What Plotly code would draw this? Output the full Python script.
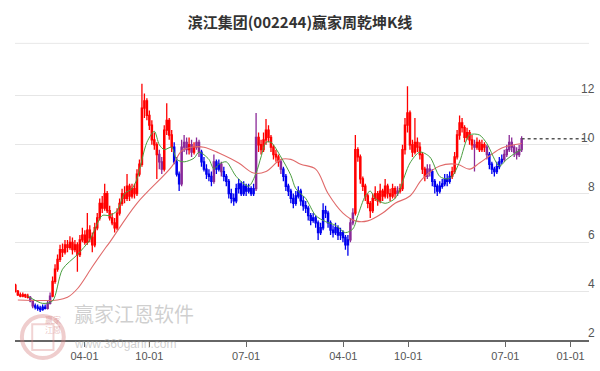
import pandas as pd
import plotly.graph_objects as go

TITLE = "滨江集团(002244)赢家周乾坤K线"

# weekly candles (week ending Fridays)
start_week = "2020-09-18"

opens = [
 4.25,4.00,3.85,3.80,3.85,3.80,3.75,3.60,3.40,3.35,
 3.30,3.25,3.35,3.30,3.50,3.80,4.40,4.90,5.30,5.70,
 5.60,5.90,5.80,6.00,5.70,5.90,5.50,6.10,6.30,6.00,
 6.50,6.20,5.90,6.60,7.00,7.60,7.40,8.00,7.30,7.00,
 6.80,6.60,7.20,7.60,8.00,7.80,8.30,7.90,8.20,8.00,
 8.80,9.20,11.50,11.80,11.20,10.80,10.20,10.00,9.60,9.30,
 9.00,10.60,11.00,10.40,9.90,9.30,8.80,8.40,9.90,10.10,
 9.80,10.00,9.70,9.90,10.10,9.70,9.30,9.00,8.80,8.70,
 8.50,9.30,9.00,9.20,8.90,8.70,8.50,8.00,7.80,7.70,
 8.20,8.40,8.00,8.30,8.10,8.20,8.00,8.20,10.30,10.00,
 9.80,10.20,10.60,10.30,9.90,9.60,9.50,9.30,9.00,8.70,
 8.30,8.10,7.80,7.60,7.90,8.10,7.70,7.50,7.40,7.10,
 6.90,7.00,6.80,6.40,6.60,7.30,7.20,6.80,6.50,6.40,
 6.60,6.30,6.40,6.20,5.90,6.10,6.80,7.20,9.80,9.50,
 8.60,8.30,7.90,7.60,7.30,7.80,8.00,7.70,8.10,7.90,
 8.30,8.00,7.90,8.20,8.00,8.10,8.20,9.80,10.80,11.30,
 10.00,9.70,10.10,9.90,9.60,9.00,8.70,9.00,8.90,8.50,
 8.30,8.10,8.30,8.40,8.60,8.50,8.70,8.90,9.50,10.40,
 10.90,10.70,10.30,10.50,10.20,10.00,9.90,10.10,9.80,10.00,
 9.90,9.60,9.20,9.00,8.90,9.10,9.30,9.40,9.60,9.80,
 10.10,9.90,9.70,9.60,9.80]

highs = [
 4.30,4.05,3.95,3.95,3.90,3.90,3.80,3.65,3.50,3.45,
 3.40,3.45,3.45,3.60,3.95,4.60,5.10,5.50,5.90,5.95,
 6.10,6.10,6.25,6.20,6.10,6.00,6.30,6.60,6.50,7.20,
 6.70,6.40,6.80,7.20,7.80,7.90,8.40,8.10,7.50,7.20,
 7.00,7.40,7.80,8.20,8.30,8.80,8.40,8.40,8.40,9.00,
 9.40,12.50,12.10,11.90,11.40,11.00,10.50,10.10,9.80,9.50,
 10.80,11.70,11.10,10.60,10.10,9.50,8.90,10.20,10.40,10.30,
 10.30,10.20,10.10,10.30,10.20,9.80,9.50,9.20,9.00,8.90,
 9.60,9.40,9.40,9.30,9.10,8.80,8.60,8.20,8.00,8.40,
 8.60,8.50,8.50,8.40,8.40,8.30,8.40,11.30,10.50,10.20,
 10.50,11.05,10.80,10.40,10.00,9.80,9.60,9.40,9.10,8.80,
 8.40,8.20,8.00,8.10,8.30,8.20,7.90,7.70,7.50,7.20,
 7.20,7.10,6.90,6.80,7.60,7.50,7.30,6.90,6.70,6.80,
 6.70,6.60,6.50,6.30,6.30,7.00,7.40,10.40,9.90,9.60,
 8.70,8.40,8.00,7.70,8.00,8.30,8.10,8.40,8.20,8.60,
 8.40,8.20,8.40,8.30,8.30,8.40,10.00,11.10,12.40,11.40,
 10.20,11.10,10.30,10.10,9.70,9.10,9.20,9.20,9.00,8.60,
 8.40,8.50,8.60,8.80,8.80,8.90,9.10,9.70,10.60,11.20,
 11.10,10.80,10.70,10.60,10.40,10.20,10.30,10.20,10.20,10.10,
 10.00,9.70,9.30,9.10,9.30,9.50,9.60,9.80,10.00,10.40,
 10.30,10.00,9.90,10.00,10.35]

lows = [
 3.95,3.80,3.75,3.75,3.72,3.70,3.55,3.30,3.25,3.20,
 3.15,3.20,3.25,3.25,3.45,3.75,4.30,4.80,5.20,5.40,
 5.50,5.60,5.70,5.50,5.60,4.80,5.40,6.00,5.90,5.90,
 6.00,5.60,5.80,6.50,6.90,7.20,7.30,7.20,6.90,6.70,
 6.40,6.50,7.10,7.50,7.60,7.70,7.70,7.80,7.80,7.90,
 8.70,9.10,11.10,11.00,10.60,10.00,9.80,8.60,9.00,8.80,
 8.90,10.40,10.20,9.70,9.20,8.70,8.10,8.30,9.70,9.60,
 9.60,9.50,9.60,9.80,9.50,9.10,8.90,8.60,8.50,8.30,
 8.40,8.80,8.90,8.70,8.50,8.30,7.80,7.60,7.50,7.60,
 8.00,7.90,7.90,7.90,8.00,7.90,7.90,8.10,9.70,9.60,
 9.70,10.00,10.10,9.70,9.40,9.30,9.10,8.80,8.50,8.10,
 7.90,7.60,7.40,7.50,7.80,7.50,7.30,7.20,6.90,6.70,
 6.80,6.60,6.10,6.30,6.50,7.00,6.60,6.30,6.20,6.30,
 6.10,6.10,6.00,5.70,5.45,6.00,6.70,7.10,9.30,8.40,
 8.10,7.70,7.40,7.00,7.20,7.70,7.50,7.60,7.70,7.80,
 7.80,7.70,7.80,7.80,7.90,8.00,8.10,9.60,10.50,9.80,
 9.50,9.60,9.70,9.40,8.80,8.50,8.60,8.70,8.30,8.00,
 7.90,8.00,8.20,8.30,8.30,8.40,8.60,8.80,9.40,10.20,
 10.50,10.10,10.20,10.00,9.80,8.90,9.80,9.70,9.70,9.70,
 9.40,9.00,8.80,8.70,8.80,9.00,9.20,9.30,9.50,9.70,
 9.70,9.50,9.40,9.50,9.70]

closes = [
 4.00,3.85,3.80,3.85,3.80,3.75,3.60,3.40,3.35,3.30,
 3.25,3.35,3.30,3.50,3.80,4.40,4.90,5.30,5.70,5.60,
 5.90,5.80,6.00,5.70,5.90,5.50,6.10,6.30,6.00,6.50,
 6.20,5.90,6.60,7.00,7.60,7.40,8.00,7.30,7.00,6.80,
 6.60,7.20,7.60,8.00,7.80,8.30,7.90,8.20,8.00,8.80,
 9.20,11.50,11.80,11.20,10.80,10.20,10.00,9.60,9.30,9.00,
 10.60,11.00,10.40,9.90,9.30,8.80,8.40,9.90,10.10,9.80,
 10.00,9.70,9.90,10.10,9.70,9.30,9.00,8.80,8.70,8.50,
 9.30,9.00,9.20,8.90,8.70,8.50,8.00,7.80,7.70,8.20,
 8.40,8.00,8.30,8.10,8.20,8.00,8.20,10.30,10.00,9.80,
 10.20,10.60,10.30,9.90,9.60,9.50,9.30,9.00,8.70,8.30,
 8.10,7.80,7.60,7.90,8.10,7.70,7.50,7.40,7.10,6.90,
 7.00,6.80,6.40,6.60,7.30,7.20,6.80,6.50,6.40,6.60,
 6.30,6.40,6.20,5.90,6.10,6.80,7.20,9.80,9.50,8.60,
 8.30,7.90,7.60,7.30,7.80,8.00,7.70,8.10,7.90,8.30,
 8.00,7.90,8.20,8.00,8.10,8.20,9.80,10.80,11.30,10.00,
 9.70,10.10,9.90,9.60,9.00,8.70,9.00,8.90,8.50,8.30,
 8.10,8.30,8.40,8.60,8.50,8.70,8.90,9.50,10.40,10.90,
 10.70,10.30,10.50,10.20,10.00,9.90,10.10,9.80,10.00,9.90,
 9.60,9.20,9.00,8.90,9.10,9.30,9.40,9.60,9.80,10.10,
 9.90,9.70,9.60,9.80,10.25]

# indicator state of each candle: r = 多 (red), b = 空 (blue), p = 转换 (purple)
states = list(
 "rrrrrrppbb" "bbbpprrrrr" "rrrrrrrrrr" "rrrrrrrrrr" "rrrrrrrrrr"
 "rrrrrrrrpp" "rrrrbbbppp" "rprppbbbbb" "pbbpbbbbbb" "bbbbbbbprr"
 "rrrrrrrpbb" "bbbbbbbbbb" "bbbbbbbbbb" "bbbbbpprrr" "rrrrrrrrrr"
 "rrrrprrrrr" "rrrrrrppbb" "bbbbbbrrrr" "rrrrrprrrr" "pbbbbbbppp"
 "ppppp")

# short moving line (green) and long moving line (red)
ma_short_idx = [5,11,15,19,25,30,35,38,41,44,47,49,53,56,58,60,63,65,68,72,74,78,80,82,85,89,94,97,99,101,103,107,111,113,117,121,125,129,133,136,138,141,143,145,149,153,155,159,163,167,171,174,176,179,183,187,190,195,198,202,204]
ma_short_val = [3.8,3.5,3.6,4.9,5.5,6.1,7.1,7.1,7.3,8.0,8.2,8.6,10.1,10.55,10.0,9.8,9.9,9.4,9.3,9.45,9.7,9.4,9.0,9.2,9.3,8.7,8.3,8.84,9.5,10.1,10.1,9.5,8.75,8.2,7.8,7.1,6.85,6.7,6.4,6.55,7.1,7.9,8.1,7.8,7.6,7.8,8.2,9.25,9.7,9.5,8.7,8.6,8.7,9.3,10.4,10.4,10.05,9.13,9.4,9.7,9.8]

ma_long_idx = [1,17,21,25,31,36,38,49,63,67,71,76,82,90,96,101,107,111,115,121,126,132,137,142,148,153,159,164,171,178,183,187,191,196,204]
ma_long_val = [3.64,3.64,3.75,4.1,5.0,5.73,6.0,7.6,9.1,9.75,9.9,9.9,9.66,9.25,8.84,8.9,9.4,9.4,9.2,9.0,8.0,7.2,6.88,6.88,7.2,7.6,7.9,8.6,9.13,9.2,9.0,9.25,9.54,9.87,10.05]

x_tick_vals = ["2021-04-01", "2021-10-01", "2022-07-01", "2023-04-01",
               "2023-10-01", "2024-07-01", "2025-01-01"]
x_tick_text = ["04-01", "10-01", "07-01", "04-01", "10-01", "07-01", "01-01"]
y_tick_vals = [2, 4, 6, 8, 10, 12]

x_range = ["2020-09-17", "2025-02-22"]
y_range = [2, 13.8]

dates = pd.date_range(start_week, periods=len(closes), freq="W-FRI")

state_colors = {"r": "#ff0000", "b": "#0000ee", "p": "#8b2a98"}

fig = go.Figure()

for s in ["b", "p", "r"]:
    idx = [i for i, st in enumerate(states) if st == s]
    col = state_colors[s]
    fig.add_trace(go.Candlestick(
        x=[dates[i] for i in idx],
        open=[opens[i] for i in idx],
        high=[highs[i] for i in idx],
        low=[lows[i] for i in idx],
        close=[closes[i] for i in idx],
        increasing=dict(line=dict(color=col, width=1.3), fillcolor=col),
        decreasing=dict(line=dict(color=col, width=1.3), fillcolor=col),
        whiskerwidth=0,
        showlegend=False,
        hoverinfo="skip",
    ))

fig.add_trace(go.Scatter(
    x=[dates[i] for i in ma_long_idx], y=ma_long_val, mode="lines",
    line=dict(color="#e06a6a", width=1.1, shape="spline", smoothing=1.0),
    showlegend=False, hoverinfo="skip"))
fig.add_trace(go.Scatter(
    x=[dates[i] for i in ma_short_idx], y=ma_short_val, mode="lines",
    line=dict(color="#4a9e3f", width=1, shape="spline", smoothing=0.8),
    showlegend=False, hoverinfo="skip"))

# last price guide line
fig.add_trace(go.Scatter(
    x=[dates[-1], x_range[1]], y=[closes[-1], closes[-1]], mode="lines",
    line=dict(color="#555555", width=1.5, dash="dot"),
    showlegend=False, hoverinfo="skip", cliponaxis=False))

# y tick labels at the right edge, sitting just above their grid lines
y_label_annotations = [
    dict(text=str(v), xref="paper", yref="y", x=1.0139, y=v, xanchor="right",
         yanchor="middle", yshift=7, showarrow=False,
         font=dict(size=12, color="#555555"))
    for v in y_tick_vals
]

fig.update_layout(
    width=600, height=371,
    margin=dict(l=15, r=11, t=52, b=31, autoexpand=False),
    paper_bgcolor="white", plot_bgcolor="white",
    title=dict(text=TITLE, x=0.5, xanchor="center", y=0.94, yanchor="middle",
               font=dict(family="Noto Sans CJK SC", size=15, color="#333333", weight="bold")),
    font=dict(family="Arial, Liberation Sans, sans-serif"),
    xaxis=dict(
        type="date", range=x_range, rangeslider=dict(visible=False),
        tickvals=x_tick_vals, ticktext=x_tick_text, automargin=False,
        showgrid=False, zeroline=False,
        showline=True, linecolor="#666666", linewidth=1.5,
        ticks="outside", ticklen=5, tickcolor="#666666", tickwidth=1,
        tickfont=dict(size=11, color="#555555"),
    ),
    yaxis=dict(
        range=y_range, side="right", tickvals=y_tick_vals, automargin=False,
        showgrid=True, gridcolor="#e6e6e6", gridwidth=1,
        zeroline=False, showline=False, ticks="", showticklabels=False,
    ),
    shapes=[
        dict(type="line", xref="paper", yref="paper", x0=0, x1=1, y0=1.03, y1=1.03,
             line=dict(color="#e8e8e8", width=1)),
        dict(type="circle", xref="paper", yref="paper", x0=0.012, x1=0.085, y0=-0.0625, y1=0.083,
             line=dict(color="rgba(215,130,130,0.4)", width=4), layer="above"),
        dict(type="rect", xref="paper", yref="paper", x0=0.03, x1=0.067, y0=-0.035, y1=0.055,
             line=dict(color="rgba(215,130,130,0.35)", width=2), layer="above"),
    ],
    annotations=y_label_annotations + [
        dict(text="赢家<br>江恩", xref="paper", yref="paper", x=0.0485, y=0.01, showarrow=False,
             font=dict(family="Noto Sans CJK SC", size=8, color="rgba(200,100,100,0.4)")),
        dict(text="赢家江恩软件", xref="paper", yref="paper", x=0.1, y=0.035, xanchor="left",
             showarrow=False,
             font=dict(family="Noto Sans CJK SC", size=20, color="rgba(160,160,160,0.5)")),
        dict(text="www.360gann.com", xref="paper", yref="paper", x=0.1, y=-0.045, xanchor="left",
             showarrow=False,
             font=dict(family="Arial, Liberation Sans", size=12, color="rgba(160,160,160,0.5)")),
    ],
)

fig.write_html("out.html")
